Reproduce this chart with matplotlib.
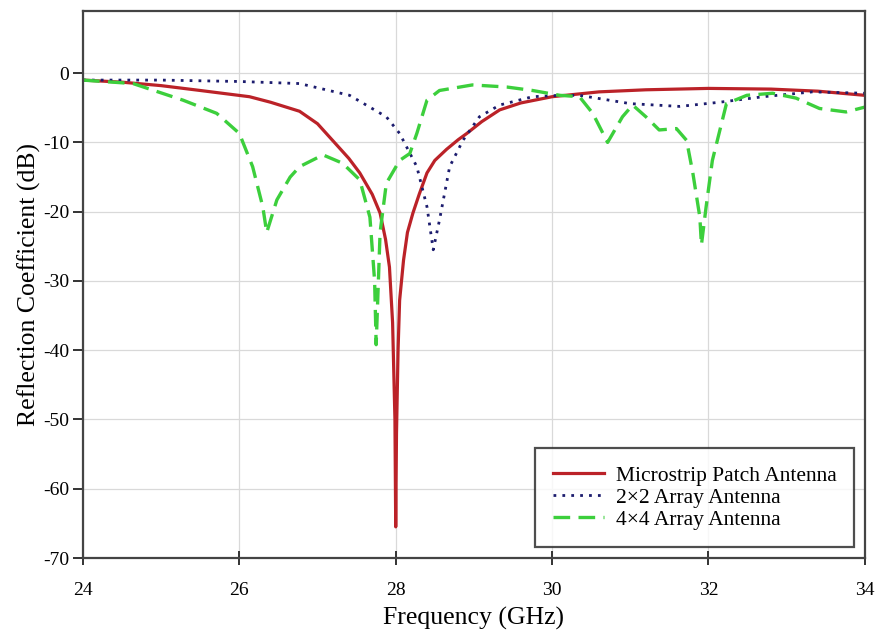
import matplotlib.pyplot as plt

plt.rcParams['font.family'] = ['Liberation Serif', 'DejaVu Serif']
plt.rcParams['axes.unicode_minus'] = False

# Microstrip patch antenna
patch_f = [24.0, 24.5, 25.0, 25.5, 26.13, 26.4, 26.77, 27.0, 27.2, 27.4, 27.54, 27.7, 27.8,
           27.87, 27.92, 27.96, 27.99, 28.0, 28.01, 28.03, 28.05, 28.1, 28.15, 28.22, 28.3,
           28.4, 28.5, 28.65, 28.8, 28.91, 29.1, 29.33, 29.6, 30.0, 30.6, 31.2, 32.0, 32.8,
           33.4, 34.0]
patch_db = [-1.0, -1.3, -1.8, -2.5, -3.4, -4.2, -5.5, -7.3, -9.8, -12.3, -14.4, -17.5, -20.2,
            -24.0, -28.0, -36.0, -50.0, -65.5, -52.0, -40.0, -32.8, -27.0, -23.0, -20.2, -17.5,
            -14.4, -12.6, -11.0, -9.6, -8.7, -7.0, -5.3, -4.3, -3.4, -2.7, -2.4, -2.2, -2.3,
            -2.6, -3.2]

# 2x2 array antenna
arr2_f = [24.0, 25.0, 26.0, 26.77, 27.41, 27.88, 28.05, 28.27, 28.4, 28.48, 28.56, 28.69,
          28.86, 29.07, 29.33, 29.75, 30.1, 30.35, 31.0, 31.63, 32.14, 32.7, 33.33, 34.0]
arr2_db = [-1.0, -1.0, -1.2, -1.5, -3.2, -6.3, -8.7, -13.5, -19.3, -25.5, -21.2, -13.5,
           -9.7, -6.3, -4.6, -3.4, -3.2, -3.2, -4.4, -4.8, -4.2, -3.4, -2.7, -2.9]

# 4x4 array antenna
arr4_f = [24.0, 24.64, 25.28, 25.71, 26.0, 26.17, 26.3, 26.35, 26.48, 26.65, 26.77, 27.07,
          27.32, 27.54, 27.67, 27.73, 27.75, 27.8, 27.88, 28.05, 28.18, 28.27, 28.4, 28.56,
          28.98, 29.42, 29.75, 30.1, 30.35, 30.52, 30.71, 30.9, 31.03, 31.2, 31.37, 31.59,
          31.72, 31.8, 31.89, 31.91, 31.97, 32.05, 32.23, 32.49, 32.82, 33.12, 33.42, 33.76, 34.0]
arr4_db = [-1.0, -1.5, -3.9, -5.8, -8.7, -13.5, -19.3, -23.0, -18.3, -15.0, -13.5, -11.8,
           -13.0, -15.4, -20.8, -30.0, -39.2, -23.0, -15.9, -12.6, -11.6, -8.7, -3.9, -2.5,
           -1.7, -2.0, -2.5, -3.2, -3.4, -5.8, -10.0, -6.3, -4.6, -6.3, -8.2, -8.0,
           -9.7, -14.4, -20.8, -24.8, -19.3, -12.6, -4.4, -3.2, -2.9, -3.6, -5.1, -5.6, -4.9]

fig = plt.figure(figsize=(8.78, 6.37), dpi=100)
ax = fig.add_axes([0.0945, 0.124, 0.8905, 0.859])

ax.plot(patch_f, patch_db, color='#bb2228', lw=2.3, label='Microstrip Patch Antenna')
ax.plot(arr2_f, arr2_db, color='#1c1c6e', lw=2.0, ls=(0, (1, 2.2)), label='2\u00d72 Array Antenna')
ax.plot(arr4_f, arr4_db, color='#3ccf3c', lw=2.4, ls=(0, (5, 2.5)), label='4\u00d74 Array Antenna')

ax.set_xlim(24, 34)
ax.set_ylim(-70, 9)
ax.set_xticks([24, 26, 28, 30, 32, 34])
ax.set_yticks(range(-70, 1, 10))
ax.grid(True, color='#d9d9d9', lw=0.9)
ax.set_axisbelow(True)

for s in ax.spines.values():
    s.set_color('#444444')
    s.set_linewidth(1.6)

ax.tick_params(axis='y', direction='out', length=7, width=1.4, labelsize=14, color='#333333', pad=3)
ax.tick_params(axis='x', direction='inout', length=10, width=1.4, labelsize=14, color='#333333', pad=12)

ax.set_xlabel('Frequency (GHz)', fontsize=18.5, labelpad=6)
ax.set_ylabel('Reflection Coefficient (dB)', fontsize=18.5, labelpad=1)

leg = ax.legend(loc='lower right', fontsize=15.5, frameon=True, fancybox=False,
                handlelength=2.4, handletextpad=0.55, borderpad=0.8, labelspacing=0.1,
                borderaxespad=0.5)
leg.get_frame().set_edgecolor('#222222')
leg.get_frame().set_linewidth(1.6)

plt.savefig('out.png', dpi=100)
